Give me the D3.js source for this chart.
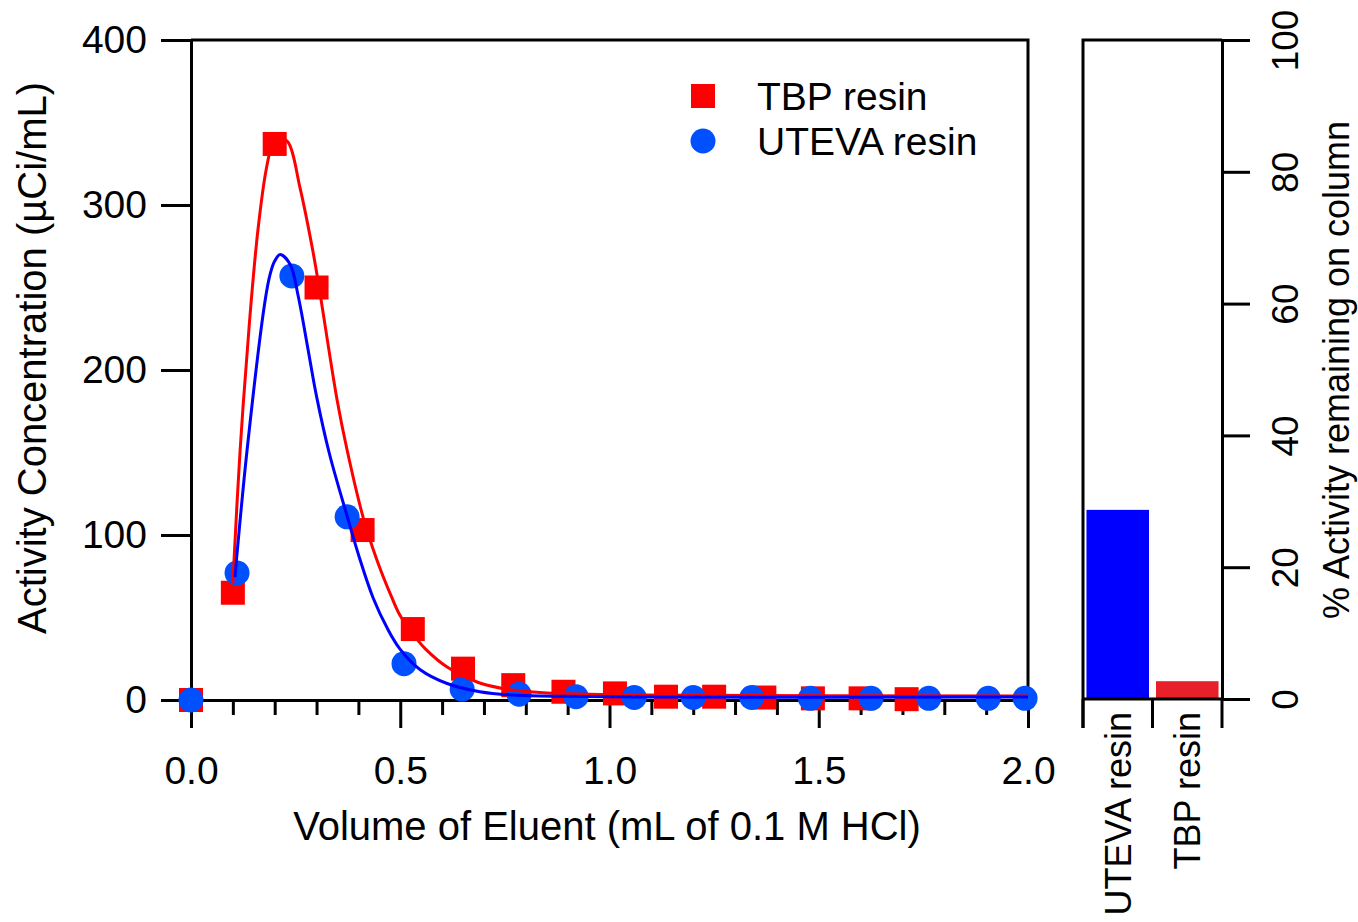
<!DOCTYPE html>
<html>
<head>
<meta charset="utf-8">
<script src="https://cdn.jsdelivr.net/npm/d3@7"></script>
<style>
  body { margin: 0; background: #fff; }
  svg text { font-family: "Liberation Sans", Arial, sans-serif; fill: #000; }
</style>
</head>
<body>
<svg id="canvas" width="1358" height="922"></svg>
<script>
// measured points (volume in mL, activity in uCi/mL)
var tbpX = [0, 0.10, 0.20, 0.30, 0.41, 0.53, 0.65, 0.77, 0.89, 1.013, 1.135, 1.25, 1.37, 1.486, 1.60, 1.71];
var tbpY = [0, 65, 337, 250, 103, 43, 19, 9, 5, 4, 2, 2, 1.5, 1, 1, 0.5];
var uteX = [0, 0.11, 0.241, 0.373, 0.509, 0.648, 0.784, 0.92, 1.059, 1.20, 1.34, 1.48, 1.625, 1.763, 1.905, 1.993];
var uteY = [0, 77, 257, 111, 22, 6.5, 3.5, 2, 1.5, 1.5, 1.5, 1, 1, 1, 1, 1];

// fitted curves
var tbpFitX = [0.100, 0.117, 0.140, 0.160, 0.180, 0.195, 0.210, 0.232, 0.260, 0.292, 0.308, 0.349, 0.373, 0.411, 0.444, 0.480, 0.500, 0.533, 0.560, 0.612, 0.690, 0.769, 0.851, 1.073, 2.0];
var tbpFitY = [71, 150, 230, 285, 322, 337, 341, 338, 311, 271, 247, 182, 151.5, 111, 85, 62, 51, 39, 31, 20, 10.3, 6, 4.2, 3, 2.4];
var uteFitX = [0.105, 0.134, 0.177, 0.189, 0.200, 0.213, 0.237, 0.256, 0.280, 0.300, 0.330, 0.373, 0.404, 0.435, 0.470, 0.499, 0.547, 0.612, 0.690, 0.769, 0.900, 1.073, 2.0];
var uteFitY = [74.5, 151.5, 242, 258, 266, 270, 264, 245, 212, 184, 150, 111.5, 85, 62, 43, 31, 18.5, 10, 5, 3, 2.2, 1.8, 1.8];

// side panel: % remaining on column
var barCats = ["UTEVA resin", "TBP resin"];
var barVals = [28.7, 2.7];
var barColors = ["#0000ff", "#e8202a"];

var xTicks = [0, 0.5, 1.0, 1.5, 2.0];
var xMinor = [0.1, 0.2, 0.3, 0.4, 0.6, 0.7, 0.8, 0.9, 1.1, 1.2, 1.3, 1.4, 1.6, 1.7, 1.8, 1.9];
var yTicks = [0, 100, 200, 300, 400];
var barTicks = [0, 20, 40, 60, 80, 100];

var svg = d3.select("#canvas");
var x = d3.scaleLinear().domain([0, 2]).range([191, 1028]);
var y = d3.scaleLinear().domain([0, 400]).range([700, 40]);

function styleAxis(g) {
  g.selectAll("path, line").attr("stroke", "#000").attr("stroke-width", 3);
  g.selectAll("text").style("font-size", "39px");
}

// left axis
svg.append("g").attr("transform", "translate(" + x(0) + ",0)")
  .call(d3.axisLeft(y).tickValues(yTicks).tickSize(30).tickSizeOuter(0).tickPadding(14))
  .call(styleAxis);

// bottom axis, major + minor ticks
svg.append("g").attr("transform", "translate(0," + y(0) + ")")
  .call(d3.axisBottom(x).tickValues(xTicks).tickFormat(d3.format(".1f")).tickSize(28).tickSizeOuter(0).tickPadding(28))
  .call(styleAxis);
svg.append("g").attr("transform", "translate(0," + y(0) + ")")
  .call(d3.axisBottom(x).tickValues(xMinor).tickFormat("").tickSize(15).tickSizeOuter(0))
  .call(styleAxis);

// frame top/right
svg.append("path")
  .attr("d", "M" + x(0) + "," + y(400) + "H" + x(2) + "V" + y(0))
  .attr("fill", "none").attr("stroke", "#000").attr("stroke-width", 3);

// axis titles
svg.append("text")
  .attr("x", 607).attr("y", 840)
  .attr("text-anchor", "middle").style("font-size", "40px")
  .text("Volume of Eluent (mL of 0.1 M HCl)");
svg.append("text")
  .attr("transform", "translate(46,358) rotate(-90)")
  .attr("text-anchor", "middle").style("font-size", "40px")
  .text("Activity Concentration (\u00b5Ci/mL)");

// markers
var tbpPts = tbpX.map(function(d, i) { return [d, tbpY[i]]; });
var utePts = uteX.map(function(d, i) { return [d, uteY[i]]; });
var sq = 24;
svg.append("g").selectAll("rect").data(tbpPts).enter().append("rect")
  .attr("x", function(d) { return x(d[0]) - sq / 2; })
  .attr("y", function(d) { return y(d[1]) - sq / 2; })
  .attr("width", sq).attr("height", sq)
  .attr("fill", "#ff0000");
svg.append("g").selectAll("circle").data(utePts).enter().append("circle")
  .attr("cx", function(d) { return x(d[0]); })
  .attr("cy", function(d) { return y(d[1]); })
  .attr("r", 12.5)
  .attr("fill", "#0050ff");

// fitted lines
var line = d3.line()
  .x(function(d) { return x(d[0]); })
  .y(function(d) { return y(d[1]); })
  .curve(d3.curveCatmullRom.alpha(0.5));
svg.append("path")
  .attr("d", line(tbpFitX.map(function(d, i) { return [d, tbpFitY[i]]; })))
  .attr("fill", "none").attr("stroke", "#ff0000").attr("stroke-width", 3);
svg.append("path")
  .attr("d", line(uteFitX.map(function(d, i) { return [d, uteFitY[i]]; })))
  .attr("fill", "none").attr("stroke", "#0000ff").attr("stroke-width", 3);

// legend
var leg = svg.append("g");
leg.append("rect").attr("x", 703 - 12).attr("y", 96 - 12).attr("width", 24).attr("height", 24).attr("fill", "#ff0000");
leg.append("circle").attr("cx", 703).attr("cy", 141).attr("r", 12.5).attr("fill", "#0050ff");
leg.append("text").attr("x", 757).attr("y", 96).attr("dy", "0.35em").style("font-size", "39px").text("TBP resin");
leg.append("text").attr("x", 757).attr("y", 141).attr("dy", "0.35em").style("font-size", "39px").text("UTEVA resin");

// ---- side bar panel ----
var bx = d3.scaleBand().domain(barCats).range([1083, 1222]).paddingInner(0.1).paddingOuter(0.05);
var by = d3.scaleLinear().domain([0, 100]).range([699, 40]);

svg.append("g").selectAll("rect").data(barCats).enter().append("rect")
  .attr("x", function(d) { return bx(d); })
  .attr("y", function(d, i) { return by(barVals[i]); })
  .attr("width", bx.bandwidth())
  .attr("height", function(d, i) { return by(0) - by(barVals[i]); })
  .attr("fill", function(d, i) { return barColors[i]; });

var rAxis = svg.append("g").attr("transform", "translate(1222,0)")
  .call(d3.axisRight(by).tickValues(barTicks).tickSize(28).tickSizeOuter(0).tickFormat(d3.format("d")))
  .call(styleAxis);
rAxis.selectAll("text")
  .attr("x", null).attr("dy", null)
  .attr("text-anchor", "middle")
  .attr("transform", "translate(76,0) rotate(-90)")
  .style("font-size", "37px");

// panel frame: left, top, bottom
var edges = [1083, (bx(barCats[0]) + bx.bandwidth() + bx(barCats[1])) / 2, 1222];
svg.append("path")
  .attr("d", "M1222," + by(100) + "H1083V" + (by(0) + 29) + "M1083," + by(0) + "H1222")
  .attr("fill", "none").attr("stroke", "#000").attr("stroke-width", 3);
svg.append("g").selectAll("line").data(edges).enter().append("line")
  .attr("x1", function(d) { return d; }).attr("x2", function(d) { return d; })
  .attr("y1", by(0)).attr("y2", by(0) + 29)
  .attr("stroke", "#000").attr("stroke-width", 3);

// category labels
svg.append("g").selectAll("text").data(barCats).enter().append("text")
  .attr("transform", function(d) { return "translate(" + (bx(d) + bx.bandwidth() / 2 + 13) + "," + (by(0) + 13) + ") rotate(-90)"; })
  .attr("text-anchor", "end")
  .style("font-size", "36px")
  .text(function(d) { return d; });

svg.append("text")
  .attr("transform", "translate(1349,370) rotate(-90)")
  .attr("text-anchor", "middle").style("font-size", "36px")
  .text("% Activity remaining on column");
</script>
</body>
</html>
